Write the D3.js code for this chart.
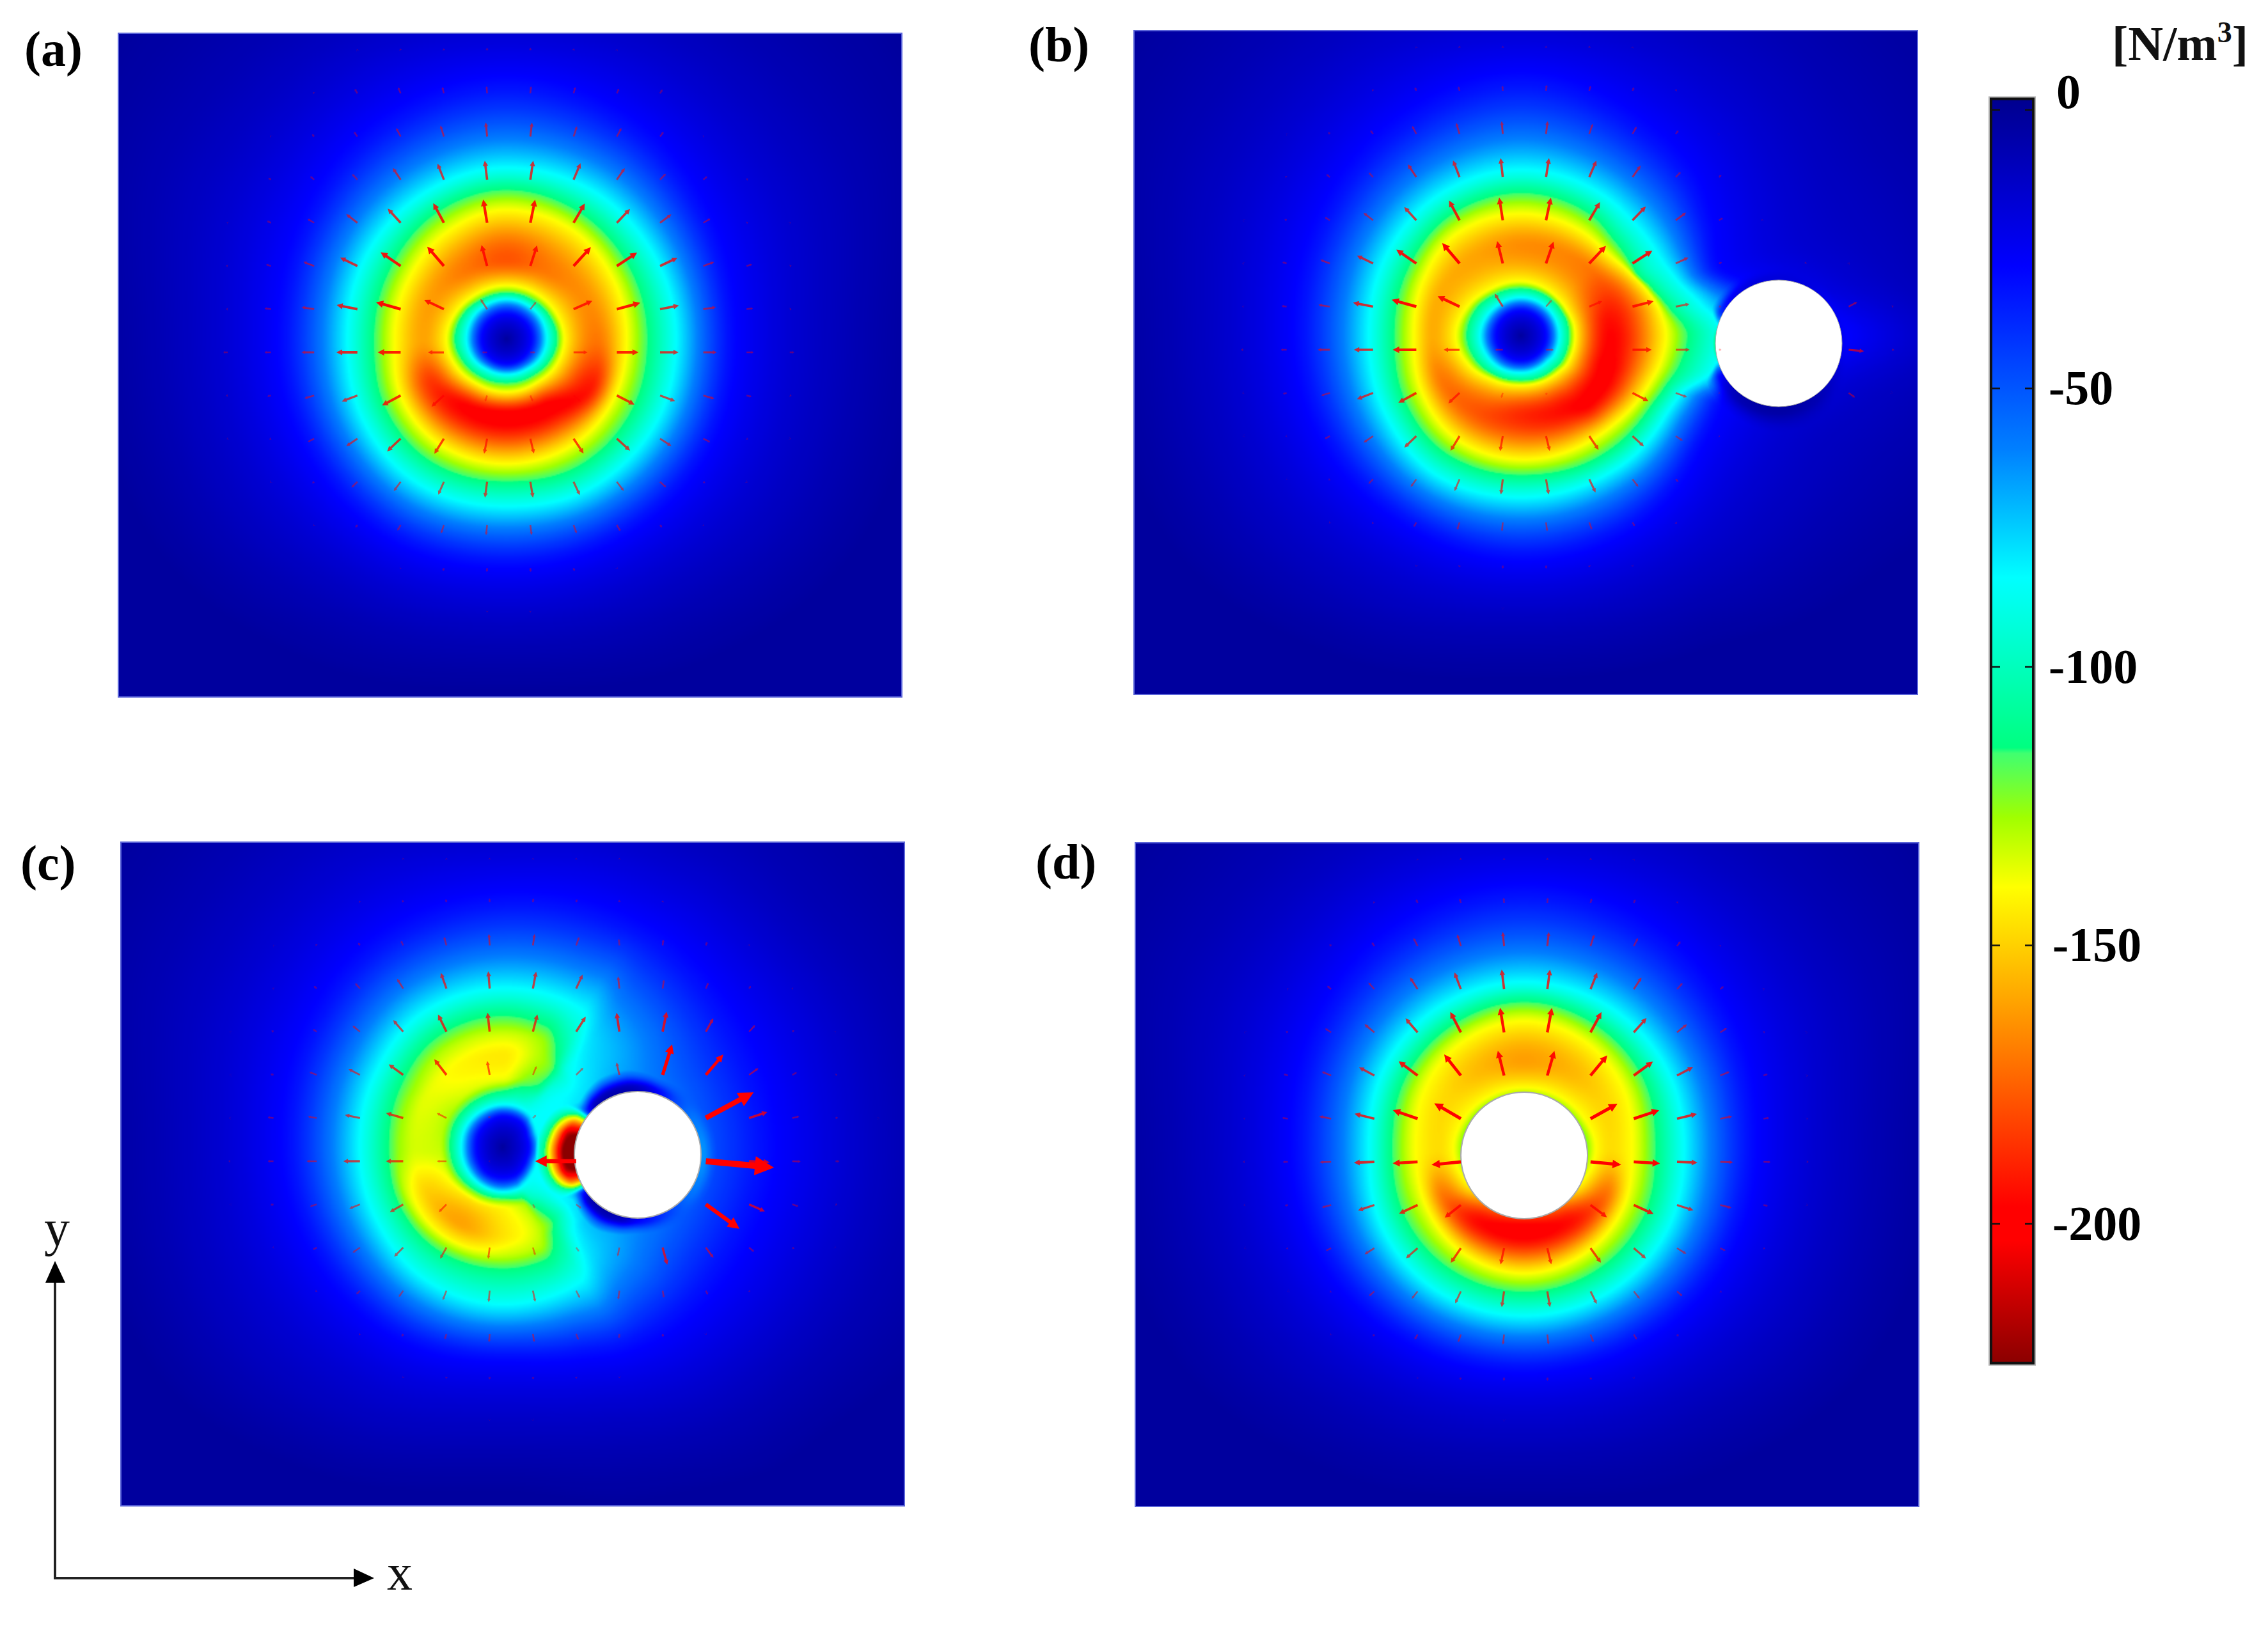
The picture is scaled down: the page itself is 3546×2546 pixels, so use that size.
<!DOCTYPE html>
<html><head><meta charset="utf-8"><title>Force density</title>
<script src="https://cdn.jsdelivr.net/npm/d3@7"></script>
<style>html,body{margin:0;padding:0;background:#fff}svg{display:block}text{font-family:"Liberation Serif",serif}</style>
</head><body><div id="chart"></div>
<script>
// ---- colour bar ----
const colorStops=[2,-28,-61,-84,-114.5,-115.5,-127,-139.5,-168,-197,-203,-225];
const colorRange=['#00008f','#0000ff','#0080ff','#00ffff','#00ff80','#40ff70','#a0ff00','#ffff00','#ff8000','#ff0000','#ff0000','#8b0000'];
const barTicks=[0,-50,-100,-150,-200];
const panelNames=['(a)','(b)','(c)','(d)'];

// ---- field knots: each row is one contour, each column one ray from the ring centre ----
const rowValues=[-2,-28,-84,-115,-140,null,-140,-115,-84,-28,-8,-2];

const aAngles=[0,30,60,90,120,150,180,210,240,270,300,330];
const aPeak=[-170,-192,-200,-201,-198,-185,-160,-162,-170,-178,-170,-165];
const aRadii=[
[0,0,0,0,0,0,0,0,0,0,0,0],
[38,38,38,38,38,38,38,38,38,38,38,38],
[63,61,57,56,57,61,63,63,62,62,62,63],
[79,75,70,69,71,76,81,78,73,72,73,76],
[91,88,83,83,84,90,95,90,85,84,85,88],
[140,150,125,121,125,135,130,130,125,125,125,135],
[187,192,195,195,195,188,174,178,190,201,198,190],
[220,225,228,223,225,218,207,212,225,233,228,222],
[265,268,268,262,265,258,249,255,262,268,268,265],
[361,365,362,360,365,362,361,375,400,412,400,375],
[545,540,500,480,500,540,545,600,600,560,600,600],
[650,640,590,550,590,640,650,760,780,700,780,760]];

const bAngles=[0,10,20,30,45,60,90,120,150,180,210,240,270,300,315,330,340,350];
const bPeak=[-197,-198,-200,-200,-199,-195,-188,-178,-170,-158,-158,-160,-165,-167,-170,-180,-188,-194];
const bRadii=[
[0,0,0,0,0,0,0,0,0,0,0,0,0,0,0,0,0,0],
[38,38,38,38,38,38,38,38,38,38,38,38,38,38,38,38,38,38],
[60,60,60,60,58,58,58,60,62,64,62,60,60,60,60,60,60,60],
[75,75,75,75,73,72,70,73,80,85,82,76,74,74,74,74,75,75],
[85,85,85,85,82,80,78,82,94,103,96,88,86,84,83,83,84,85],
[140,140,142,145,146,135,126,135,140,138,140,140,140,143,147,145,143,140],
[226,222,214,208,200,196,193,190,178,167,175,188,190,188,186,196,208,220],
[260,252,238,230,227,224,218,218,208,198,205,218,223,218,208,205,218,237],
[320,305,266,258,258,255,253,255,245,238,245,255,260,255,250,249,258,285],
[510,400,335,335,345,352,354,350,355,358,372,395,414,390,378,350,332,400],
[700,640,580,550,520,490,470,500,540,545,600,610,560,610,620,620,640,660],
[850,820,760,690,630,570,540,580,640,650,760,780,700,780,800,820,830,840]];
const bRimAngles=[0,30,60,90,120,150,165,180,195,210,240,270,300,330];
const bRimValues=[-25,-15,-6,-3,-5,-25,-90,-110,-90,-35,-20,-18,-20,-25];
const bRimWidths=[10,20,35,40,35,30,5,5,5,20,20,20,20,10];

const cAngles=[0,20,40,50,60,70,90,120,150,180,210,240,270,290,300,310,320,340];
const cRadii=[
[0,0,0,0,0,0,0,0,0,0,0,0,0,0,0,0,0,0],
[40,40,42,44,46,47,47,46,42,40,42,44,47,47,47,46,44,40],
[60,60,64,66,68,70,70,68,66,65,66,66,67,68,68,68,64,60],
[80,82,88,90,92,85,80,80,82,83,85,85,88,95,92,90,88,85],
[100,105,110,110,115,98,98,100,100,100,100,105,108,115,114,110,108,105],
[130,130,132,135,140,135,135,135,135,135,140,140,142,150,145,140,135,130],
[170,170,155,150,155,165,165,160,162,160,165,172,170,175,165,160,165,170],
[210,200,180,175,185,188,190,190,185,178,185,200,205,200,190,180,190,200],
[260,250,215,225,243,245,246,240,228,224,230,245,249,250,248,228,235,250],
[430,415,400,390,375,355,337,345,345,348,365,390,400,410,415,420,420,425],
[640,620,580,560,530,500,470,510,550,540,600,620,560,600,610,620,620,640],
[800,760,680,660,620,590,540,590,650,650,760,780,720,780,790,800,800,800]];
const cValues=[
[-2,-2,-2,-2,-2,-2,-2,-2,-2,-2,-2,-2,-2,-2,-2,-2,-2,-2],
[-28,-28,-28,-28,-28,-28,-28,-28,-28,-28,-28,-28,-28,-28,-28,-28,-28,-28],
[-84,-84,-84,-84,-84,-84,-84,-84,-84,-84,-84,-84,-84,-84,-84,-84,-84,-84],
[-84,-84,-84,-90,-100,-115,-115,-115,-115,-115,-115,-115,-115,-110,-100,-88,-84,-84],
[-84,-84,-84,-95,-115,-130,-142,-148,-140,-132,-130,-136,-138,-124,-115,-90,-84,-84],
[-78,-78,-82,-100,-122,-135,-146,-160,-150,-134,-136,-141,-144,-131,-122,-95,-84,-78],
[-72,-72,-78,-95,-115,-130,-135,-145,-138,-127,-127,-132,-136,-128,-115,-88,-80,-72],
[-66,-66,-72,-84,-105,-115,-115,-115,-115,-115,-115,-115,-115,-115,-105,-84,-76,-66],
[-60,-60,-70,-76,-84,-84,-84,-84,-84,-84,-84,-84,-84,-84,-84,-76,-70,-60],
[-28,-28,-28,-28,-28,-28,-28,-28,-28,-28,-28,-28,-28,-28,-28,-28,-28,-28],
[-8,-8,-8,-8,-8,-8,-8,-8,-8,-8,-8,-8,-8,-8,-8,-8,-8,-8],
[-2,-2,-2,-2,-2,-2,-2,-2,-2,-2,-2,-2,-2,-2,-2,-2,-2,-2]];
const cRimAngles=[0,30,60,75,90,105,120,135,145,152,160,170,183,195,205,214,222,232,245,260,275,290,305,330];
const cRimValues=[-65,-60,-45,-35,-25,-8,-4,-6,-30,-120,-190,-235,-245,-235,-190,-120,-30,-6,-4,-5,-12,-28,-45,-60];
const cRimWidths=[25,25,25,25,25,30,35,30,25,40,52,58,62,58,52,40,25,30,35,35,30,25,25,25];

const dAngles=[0,30,60,90,120,150,180,210,240,270,300,330];
const dPeak=[-147,-172,-195,-201,-196,-170,-147,-148,-155,-161,-156,-149];
const dRadii=[
[0,0,0,0,0,0,0,0,0,0,0,0],
[40,40,40,40,40,40,40,40,40,40,40,40],
[62,60,50,45,50,60,62,60,55,52,55,60],
[92,85,70,65,70,85,90,85,78,75,78,85],
[113,105,85,80,85,105,112,105,98,95,98,105],
[135,145,135,130,135,145,135,140,140,137,140,140],
[167,180,190,196,190,178,168,178,190,197,190,178],
[205,215,222,225,222,215,206,215,222,228,222,215],
[250,258,262,263,262,255,243,252,258,260,258,255],
[366,365,358,354,358,365,367,385,405,414,405,385],
[545,540,500,480,500,540,545,600,600,560,600,600],
[650,640,590,550,590,640,650,760,780,700,780,760]];

const rimFadeAt=[0,.25,.5,.75,1];
const rimFadeWeight=[1,.9,.55,.2,0];

// ---- arrow lengths on the 14 x 16 sampling grid (negative = reversed) ----
const aArrows=[
[0,0,0,2,3,3,4,4,3,2,0,0,0,0,0,0],
[0,0,3,8,10,10,11,11,10,8,7,0,0,0,0,0],
[0,2,5,9,15,18,22,22,17,15,9,2,0,0,0,0],
[0,5,8,12,22,27,30,30,28,22,13,8,3,0,0,0],
[2,7,12,22,30,35,37,37,35,30,22,13,3,2,0,0],
[3,8,18,30,38,40,34,34,40,38,30,18,9,3,0,0],
[3,10,20,33,40,34,19,15,32,38,30,20,10,3,0,0],
[7,10,20,33,36,25,8,8,22,34,29,21,11,7,0,0],
[3,6,16,26,33,26,10,10,15,31,25,18,8,3,0,0],
[2,3,11,21,29,28,24,24,28,28,21,12,3,2,0,0],
[0,2,4,13,18,22,25,25,23,18,13,4,2,0,0,0],
[0,0,2,5,10,14,16,16,14,11,5,2,0,0,0,0],
[0,0,0,0,2,5,6,6,5,2,0,0,0,0,0,0],
[0,0,0,0,0,0,2,2,0,0,0,0,0,0,0,0]];
const bArrows=[
[0,0,0,0,2,3,3,3,3,2,0,0,0,0,0,0],
[0,0,0,3,6,7,8,9,8,6,3,0,0,0,0,0],
[0,1,4,7,14,18,20,20,17,13,7,1,0,0,0,0],
[0,3,7,10,24,28,30,30,28,22,11,5,0,0,0,0],
[1,4,9,19,28,35,36,36,33,30,20,7,2,0,0,0],
[2,7,16,28,38,42,36,36,38,37,22,5,0,3,2,0],
[2,8,18,32,40,38,24,14,22,34,22,4,0,0,15,3],
[4,9,19,30,37,25,12,12,0,30,22,4,0,0,24,4],
[2,6,14,27,32,24,8,4,4,28,19,2,0,0,12,1],
[1,2,9,18,26,27,24,24,26,24,13,2,0,0,0,0],
[0,1,3,10,15,20,24,24,23,15,6,0,0,0,0,0],
[0,0,2,3,8,12,14,14,12,7,3,0,0,0,0,0],
[0,0,0,0,2,3,5,5,3,2,0,0,0,0,0,0],
[0,0,0,0,0,0,1,0,0,0,0,0,0,0,0,0]];
const cArrows=[
[0,0,0,0,2,2,2,2,2,2,0,0,0,0,0,0],
[0,0,0,3,4,5,6,6,5,4,3,0,0,0,0,0],
[0,1,3,5,8,14,18,18,14,10,9,6,2,0,0,0],
[0,2,6,11,18,26,27,27,24,19,14,10,5,2,0,0],
[1,4,7,15,24,30,30,28,28,30,32,24,14,4,1,0],
[1,5,12,20,28,31,22,15,16,20,50,42,18,8,3,0],
[2,9,14,24,28,17,4,7,0,0,0,85,30,11,4,1],
[3,9,16,26,27,15,2,0,-64,0,0,107,32,13,6,0],
[1,5,11,18,24,17,0,7,10,0,0,65,27,10,3,0],
[0,2,7,14,20,20,18,13,8,14,28,20,10,4,1,0],
[0,0,3,8,12,16,18,18,13,14,11,7,3,0,0,0],
[0,0,0,3,5,9,13,13,10,7,5,2,0,0,0,0],
[0,0,0,0,2,3,4,4,3,2,0,0,0,0,0,0],
[0,0,0,0,0,0,1,1,0,0,0,0,0,0,0,0]];
const dArrows=[
[0,0,0,0,2,3,3,3,3,2,0,0,0,0,0,0],
[0,0,0,3,6,7,8,8,7,6,3,0,0,0,0,0],
[0,0,4,7,14,19,22,22,19,14,9,2,0,0,0,0],
[0,2,8,14,22,28,31,31,28,22,13,7,2,0,0,0],
[1,4,11,20,29,36,39,39,36,30,20,12,3,1,0,0],
[2,7,16,27,37,42,40,40,41,37,28,16,7,2,0,0],
[2,9,19,32,41,48,0,0,48,42,32,19,9,2,0,0],
[3,8,18,32,39,46,0,0,48,41,32,20,11,3,0,0],
[2,5,15,27,32,32,0,0,32,34,27,18,7,2,0,0],
[1,3,9,18,24,28,26,26,28,25,17,9,3,0,0,0],
[0,1,3,11,15,21,25,25,22,15,11,3,0,0,0,0],
[0,0,2,4,9,13,16,16,13,9,4,0,0,0,0,0],
[0,0,0,0,2,4,5,5,4,2,0,0,0,0,0,0],
[0,0,0,0,0,0,1,0,0,0,0,0,0,0,0,0]];

// ---- layout (page pixels) ----
const W=3546,H=2546,PW=1225,PH=1038;
const panels=[
 {name:'(a)',x:185,y:52,lx:38,ly:103,c:[607,478],circle:null,ang:aAngles,rad:aRadii,val:rowValues.map((v,i)=>aAngles.map((_,j)=>v===null?aPeak[j]:v)),arrows:aArrows,flat:true,split:99},
 {name:'(b)',x:1773,y:48,lx:1608,ly:96,c:[605,477],circle:[1008,489,99],ang:bAngles,rad:bRadii,val:rowValues.map((v,i)=>bAngles.map((_,j)=>v===null?bPeak[j]:v)),rim:[bRimAngles,bRimValues,bRimWidths],arrows:bArrows,flat:true,split:12},
 {name:'(c)',x:189,y:1317,lx:32,ly:1376,c:[597,477],circle:[808,489,99],ang:cAngles,rad:cRadii,val:cValues,rim:[cRimAngles,cRimValues,cRimWidths],arrows:cArrows,flat:true,split:9},
 {name:'(d)',x:1775,y:1318,lx:1619,ly:1374,c:[608,489],fc:[608,477],circle:[608,489,99],ang:dAngles,rad:dRadii,val:rowValues.map((v,i)=>dAngles.map((_,j)=>v===null?dPeak[j]:v)),arrows:dArrows,flat:false,split:99}
];

// ---- helpers ----
const colorScale=d3.scaleLinear().domain(colorStops).range(colorRange).clamp(true);
const LUT=d3.range(0,1001).map(i=>d3.rgb(colorScale(5-i*0.25)));
function slopes(x,y){
  const n=x.length,h=[],d=[],m=new Array(n).fill(0);
  for(let i=0;i<n-1;i++){h[i]=x[i+1]-x[i]||1e-6;d[i]=(y[i+1]-y[i])/h[i];}
  m[0]=d[0];m[n-1]=d[n-2];
  for(let i=1;i<n-1;i++){
    if(d[i-1]*d[i]<=0)m[i]=0;
    else{const a=h[i-1]+2*h[i],b=2*h[i-1]+h[i];m[i]=(a+b)/(a/d[i-1]+b/d[i]);}
  }
  return m;
}
function hermite(x,y,m,t){
  const n=x.length;
  if(t<=x[0])return y[0];
  if(t>=x[n-1])return y[n-1];
  let k=0;while(k<n-2&&t>x[k+1])k++;
  const h=x[k+1]-x[k]||1e-6,s=(t-x[k])/h,s2=s*s,s3=s2*s;
  return (2*s3-3*s2+1)*y[k]+(s3-2*s2+s)*h*m[k]+(-2*s3+3*s2)*y[k+1]+(s3-s2)*h*m[k+1];
}
function periodic(ang,vals){
  const n=ang.length;
  const x=[ang[n-2]-360,ang[n-1]-360,...ang,ang[0]+360,ang[1]+360];
  const y=[vals[n-2],vals[n-1],...vals,vals[0],vals[1]];
  const m=slopes(x,y);
  return t=>hermite(x,y,m,t);
}
const BINS=1440;
function buildPanel(p){
  const rowsR=p.rad.map(r=>periodic(p.ang,r)),rowsV=p.val.map(r=>periodic(p.ang,r));
  const rays=d3.range(BINS).map(b=>{
    const t=b*360/BINS,rs=rowsR.map(f=>f(t)),vs=rowsV.map(f=>f(t));
    for(let k=1;k<rs.length;k++)if(rs[k]<=rs[k-1])rs[k]=rs[k-1]+0.5;
    return {rs,vs,ms:slopes(rs,vs)};
  });
  let rimV=null,rimW=null;
  if(p.rim){rimV=periodic(p.rim[0],p.rim[1]);rimW=periodic(p.rim[0],p.rim[2]);}
  const fm=slopes(rimFadeAt,rimFadeWeight);
  const fc=p.fc||p.c;
  const cv=document.createElement('canvas');
  const CW=Math.round(PW/2),CH=Math.round(PH/2);
  cv.width=CW;cv.height=CH;
  const ctx=cv.getContext('2d'),img=ctx.createImageData(CW,CH),px=img.data;
  const sx=d3.scaleLinear().domain([0,CW]).range([0,PW]),sy=d3.scaleLinear().domain([0,CH]).range([0,PH]);
  const TAU=2*Math.PI;
  for(let j=0;j<CH;j++){
    const y=sy(j+.5);
    for(let i=0;i<CW;i++){
      const x=sx(i+.5),dx=x-fc[0],dy=y-fc[1];
      const r=Math.hypot(dx,dy);
      let th=Math.atan2(dy,dx);if(th<0)th+=TAU;
      const ray=rays[Math.min(BINS-1,Math.round(th/TAU*BINS)%BINS)];
      let v=hermite(ray.rs,ray.vs,ray.ms,r);
      if(rimV){
        const ex=x-p.circle[0],ey=y-p.circle[1],d=Math.hypot(ex,ey)-p.circle[2];
        let ph=Math.atan2(ey,ex)*180/Math.PI;if(ph<0)ph+=360;
        const wd=rimW(ph);
        if(d<wd){
          const w=hermite(rimFadeAt,rimFadeWeight,fm,Math.max(0,d)/wd);
          v=v+(rimV(ph)-v)*w;
        }
      }
      const c=LUT[Math.max(0,Math.min(1000,Math.round((5-v)/0.25)))];
      const o=(j*CW+i)*4;
      px[o]=c.r;px[o+1]=c.g;px[o+2]=c.b;px[o+3]=255;
    }
  }
  ctx.putImageData(img,0,0);
  return cv.toDataURL('image/png');
}

// ---- draw ----
const svg=d3.select('#chart').append('svg').attr('width',W).attr('height',H).attr('viewBox',`0 0 ${W} ${H}`);
svg.append('rect').attr('width',W).attr('height',H).attr('fill','#fff');

const gridX=d3.scaleLinear().domain([0,15]).range([171,171+67.6*15]);
const gridY=d3.scaleLinear().domain([0,13]).range([499-67.5*7,499+67.5*6]);

panels.forEach(p=>{
  const g=svg.append('g').attr('transform',`translate(${p.x},${p.y})`);
  g.append('image').attr('href',buildPanel(p)).attr('width',PW).attr('height',PH).attr('preserveAspectRatio','none');
  g.append('rect').attr('width',PW).attr('height',PH).attr('fill','none').attr('stroke','#5a64d8').attr('stroke-width',2);
  if(p.circle)g.append('circle').attr('cx',p.circle[0]).attr('cy',p.circle[1]).attr('r',p.circle[2]).attr('fill','#fff').attr('stroke','#aaa').attr('stroke-width',p.name==='(b)'?1:2);
  const list=[];
  p.arrows.forEach((row,j)=>row.forEach((L,i)=>{if(L!==0)list.push({i,j,L});}));
  g.selectAll('path.arrow').data(list).join('path').attr('class','arrow')
   .attr('fill','#ff0000')
   .attr('fill-opacity',d=>Math.min(1,0.22+Math.abs(d.L)/55))
   .attr('d',d=>{
     const x0=gridX(d.i),y0=gridY(d.j),useCircle=d.i>=p.split&&p.circle;
     const src=useCircle?p.circle:p.c;
     let ux=x0-src[0],uy=y0-src[1];
     if(p.flat&&d.j===7&&!useCircle)uy=0;
     const n=Math.hypot(ux,uy)||1;ux/=n;uy/=n;
     if(d.L<0){ux=-ux;uy=-uy;}
     const L=Math.abs(d.L),sw=Math.max(1.8,0.9+L*0.055)/1.4,hl=Math.max(3,L*0.28),hw=Math.max(2.2,L*0.14);
     const nx=-uy,ny=ux,xb=x0+ux*(L-hl),yb=y0+uy*(L-hl),xt=x0+ux*L,yt=y0+uy*L;
     const pts=[[x0+nx*sw,y0+ny*sw],[xb+nx*sw,yb+ny*sw],[xb+nx*hw,yb+ny*hw],[xt,yt],[xb-nx*hw,yb-ny*hw],[xb-nx*sw,yb-ny*sw],[x0-nx*sw,y0-ny*sw]];
     return d3.line()(pts)+'Z';
   });
  svg.append('text').attr('x',p.lx).attr('y',p.ly).attr('font-size',78).attr('font-weight','bold').attr('fill','#000').text(p.name);
});

// colour bar
const barY=d3.scaleLinear().domain([0,-200]).range([172,1914]);
const defs=svg.append('defs');
const grad=defs.append('linearGradient').attr('id','barGrad').attr('x1',0).attr('x2',0).attr('y1',0).attr('y2',1);
const yTop=barY(2),yBot=barY(-225);
colorStops.forEach((v,i)=>grad.append('stop').attr('offset',(barY(v)-yTop)/(yBot-yTop)).attr('stop-color',colorRange[i]));
svg.append('rect').attr('x',3113).attr('y',yTop).attr('width',66).attr('height',yBot-yTop).attr('fill','none').attr('stroke','#b5b5b5').attr('stroke-width',8);
svg.append('rect').attr('x',3113).attr('y',yTop).attr('width',66).attr('height',yBot-yTop).attr('fill','url(#barGrad)').attr('stroke','#111').attr('stroke-width',4);
const tickG=svg.append('g');
tickG.selectAll('line.l').data(barTicks).join('line').attr('class','l').attr('x1',3115).attr('x2',3127).attr('y1',d=>barY(d)).attr('y2',d=>barY(d)).attr('stroke','#111').attr('stroke-width',2.5);
tickG.selectAll('line.r').data(barTicks).join('line').attr('class','r').attr('x1',3166).attr('x2',3178).attr('y1',d=>barY(d)).attr('y2',d=>barY(d)).attr('stroke','#111').attr('stroke-width',2.5);
const axis=d3.axisRight(barY).tickValues(barTicks).tickSize(0).tickFormat(d=>String(d));
const axG=svg.append('g').attr('transform','translate(3203,0)').call(axis);
axG.select('.domain').remove();
axG.selectAll('text').attr('x',d=>d===0?12:(d<=-150?6:0)).attr('dy','0.32em')
  .attr('y',d=>d===0?-28:0)
  .attr('font-size',76).attr('font-weight','bold').attr('font-family','"Liberation Serif",serif').attr('fill','#000').attr('text-anchor','start');
const unit=svg.append('text').attr('x',3302).attr('y',94).attr('font-size',76).attr('font-weight','bold').attr('fill','#111');
unit.append('tspan').text('[N/m');
unit.append('tspan').attr('dy',-28).attr('font-size',46).text('3');
unit.append('tspan').attr('dy',28).text(']');

// xy axes
const axisInk='#222';
svg.append('path').attr('d',d3.line()([[86,2005],[86,2468],[556,2468]])).attr('fill','none').attr('stroke',axisInk).attr('stroke-width',4);
svg.append('path').attr('d',d3.line()([[86,1972],[102,2006],[71,2006]])+'Z').attr('fill','#000');
svg.append('path').attr('d',d3.line()([[585,2468],[553,2453],[553,2482]])+'Z').attr('fill','#000');
svg.append('text').attr('x',89).attr('y',1948).attr('text-anchor','middle').attr('font-size',80).attr('fill','#111').text('y');
svg.append('text').attr('x',625).attr('y',2486).attr('text-anchor','middle').attr('font-size',80).attr('fill','#111').text('x');
</script></body></html>
